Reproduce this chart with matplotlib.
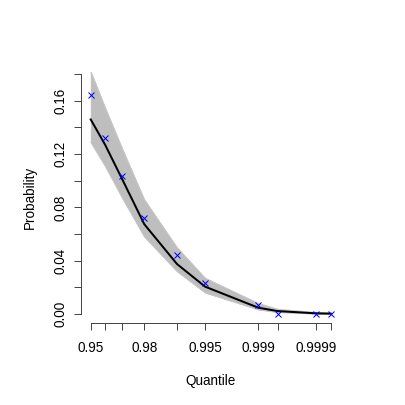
import numpy as np
import matplotlib
matplotlib.use("Agg")
import matplotlib.pyplot as plt

plt.rcParams['font.family'] = ['Liberation Sans', 'DejaVu Sans']

# quantile levels and values
quantiles = [0.95, 0.96, 0.97, 0.98, 0.99, 0.995, 0.999, 0.9995, 0.9999, 0.99995]
mean_prob = [0.146, 0.127, 0.101, 0.0674, 0.0375, 0.0205, 0.0047, 0.0022, 0.0005, 0.0003]
obs_prob = [0.1643, 0.132, 0.1036, 0.0724, 0.044, 0.0235, 0.0067, 0.0, 0.0, 0.0]
sim_upper = [0.182, 0.155, 0.124, 0.086, 0.050, 0.027, 0.008, 0.0037, 0.0012, 0.0007]
sim_lower = [0.129, 0.111, 0.087, 0.058, 0.032, 0.016, 0.0033, 0.0014, 0.0002, 0.0001]

tick_labels = {0.95: "0.95", 0.98: "0.98", 0.995: "0.995", 0.999: "0.999", 0.9999: "0.9999"}


def gumbel(q):
    q = np.asarray(q, dtype=float)
    return np.log(-np.log(1 - q))


x = gumbel(quantiles)

fig = plt.figure(figsize=(405 / 72, 405 / 72), dpi=72)
ax = fig.add_axes([81.1 / 405, 81.7 / 405, 259.2 / 405, 251.3 / 405])

ax.fill_between(x, sim_lower, sim_upper, color="#BEBEBE", linewidth=0.8)
ax.plot(x, sim_upper, color="#C8C8C8", lw=0.8)
ax.plot(x, sim_lower, color="#C8C8C8", lw=0.8)
ax.plot(x, mean_prob, color="black", lw=2, solid_joinstyle="round")
ax.plot(x, obs_prob, ls="none", marker="x", color="blue", ms=6, mew=1.0)

pad = 0.04 * (x[-1] - x[0])
ax.set_xlim(x[0] - pad, x[-1] + pad)
ax.set_ylim(-0.00697, 0.1816)

yt = np.arange(0, 0.181, 0.02)
ax.set_xticks(x)
ax.set_xticklabels([tick_labels.get(q, "") for q in quantiles])
ax.set_yticks(yt)
ax.set_yticklabels([f"{v:.2f}" if i % 2 == 0 else "" for i, v in enumerate(yt)],
                   rotation=90, va="center")

for s in ["top", "right"]:
    ax.spines[s].set_visible(False)
ax.spines["bottom"].set_bounds(x[0], x[-1])
ax.spines["left"].set_bounds(0, 0.18)
for s in ["bottom", "left"]:
    ax.spines[s].set_color("#333333")
    ax.spines[s].set_linewidth(0.9)

ax.tick_params(axis="both", length=7, width=0.9, color="#333333", labelsize=13.5)
ax.tick_params(axis="x", pad=11)
ax.tick_params(axis="y", pad=7)

ax.set_xlabel("Quantile", fontsize=13.5, labelpad=19)
ax.set_ylabel("Probability", fontsize=13.5, labelpad=16)

fig.savefig("out.png", dpi=72)
